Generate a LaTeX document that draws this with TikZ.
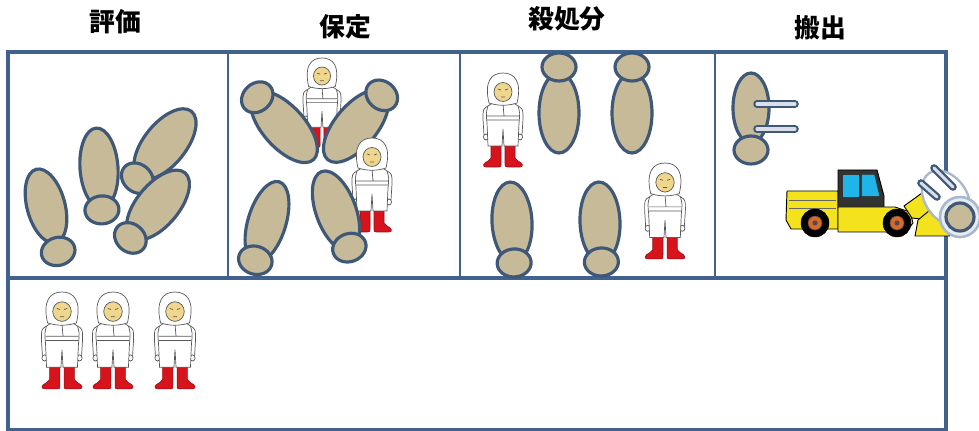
\documentclass[tikz,border=0pt]{standalone}
\usepackage{fontspec}
\usepackage{xcolor}
\usepackage{tikz}
\usetikzlibrary{positioning}
\newfontfamily\jpfont{Noto Sans CJK JP}

\definecolor{frameblue}{HTML}{41628F}
\definecolor{edgeblue}{HTML}{3F5878}
\definecolor{tan}{HTML}{C6BA98}
\definecolor{skin}{HTML}{F0D68C}
\definecolor{bootred}{HTML}{D7141C}
\definecolor{loaderyellow}{HTML}{F4E31C}
\definecolor{glass}{HTML}{1FB5E8}
\definecolor{rimorange}{HTML}{D9692A}
\definecolor{ghost}{HTML}{A9B9CD}
\definecolor{legfill}{HTML}{D8DFE8}

% body plus head: cx, cy, angle, long radius, short radius, head offset
\newcommand{\carcass}[6]{
	\begin{scope}[shift={(#1,#2)}, rotate=#3]
		\filldraw[carcass] (0,0) ellipse (#5 and #4);
		\filldraw[carcass] (0,#6) ellipse (17 and 14);
	\end{scope}
}

% worker in white suit, top of hood at (x,y)
\newcommand{\worker}[3]{
	\begin{scope}[shift={(#1,#2)}, scale=#3]
		\foreach \s in {1,-1} {
			\begin{scope}[xscale=\s]
				\filldraw[suit] (-15,33) .. controls (-20,36) .. (-20,46) -- (-19,62) -- (-15,62) -- (-15,46);
				\filldraw[suit] (-17,64) ellipse (2.5 and 3);
				\filldraw[boot] (-12,68) -- (-2,68) -- (-2,90) .. controls (-2,94) .. (-6,94) -- (-17,94)
					.. controls (-21,94) and (-20,90) .. (-15,88) -- (-12,85) -- cycle;
			\end{scope}
		}
		\filldraw[suit] (-9,29) -- (-15,33) .. controls (-17,40) .. (-16,50) -- (-15,73) -- (-1,73) -- (0,56)
			-- (1,73) -- (15,73) -- (16,50) .. controls (17,40) .. (15,33) -- (9,29) -- cycle;
		\draw[suit] (-16,43) -- (16,43) (-16,47) -- (16,47) (0,31) -- (1,43);
		\filldraw[suit] (-14,30) .. controls (-19,9) and (-12,0) .. (0,0) .. controls (12,0) and (19,9) .. (14,30)
			.. controls (5,33) and (-5,33) .. cycle;
		\filldraw[suit, fill=skin] (0,19) ellipse (9 and 9.5);
		\draw[suit] (-5,16) -- (-2,17) (2,17) -- (5,16) (-2,24) -- (2,24);
	\end{scope}
}

\newcommand{\leg}[2]{
	\draw[edgeblue, line width=6.5pt, line cap=round] #1 -- #2;
	\draw[legfill, line width=2.6pt, line cap=round] #1 -- #2;
}

\begin{document}
\begin{tikzpicture}[x=0.03cm, y=-0.03cm,
		carcass/.style={draw=edgeblue, fill=tan, line width=2.7pt},
		suit/.style={draw=black!65, fill=white, line width=0.6pt},
		boot/.style={draw=bootred!70!black, fill=bootred, line width=0.5pt},
		frame/.style={draw=frameblue, line width=2.8pt},
		title/.style={font=\jpfont\bfseries\fontsize{22}{26}\selectfont},
		loader/.style={draw=black, fill=loaderyellow, line width=0.8pt, line join=round}]
	\useasboundingbox (0,0) rectangle (979,431);

	\node[title] (hyoka) at (115,22) {評価};
	\node[title] (hotei) at (345,27) {保定};
	\node[title] (sasshobun) at (567,19) {殺処分};
	\node[title] (hanshutsu) at (820,28) {搬出};

	\draw[frame] (8,52) rectangle (946,278);
	\draw[frame] (8,278) rectangle (946,430);
	\draw[frame, line width=3.6pt] (8,52) -- (946,52);
	\foreach \x in {228,460,715}
		\draw[frame, line width=2.4pt] (\x,52) -- (\x,278);

	\carcass{46}{206}{15}{38}{19}{47}
	\carcass{99}{168}{4}{40}{19}{42}
	\carcass{165}{144}{-39}{42}{21}{44}
	\carcass{158}{205}{-40}{42}{21}{43}

	\worker{322}{58}{0.95}
	\carcass{284}{127}{-138}{44}{21}{40}
	\carcass{356}{126}{140}{44}{21}{40}
	\worker{372}{138}{1.0}
	\carcass{267}{222}{-17}{42}{19}{40}
	\carcass{336}{211}{20}{42}{20}{39}

	\carcass{559}{113}{180}{40}{20}{46}
	\carcass{632}{113}{180}{40}{20}{46}
	\carcass{512}{222}{3}{40}{20}{41}
	\carcass{600}{222}{2}{40}{20}{40}
	\worker{503}{73}{1.0}
	\worker{665}{163}{1.02}

	\carcass{751}{108}{0}{35}{18}{42}
	\leg{(757,104)}{(795,104)}
	\leg{(757,129)}{(795,129)}

	% wheel loader
	\filldraw[loader] (787,191) -- (838,191) -- (838,229) -- (791,229) -- (786,220) -- cycle;
	\draw[black!60, line width=0.5pt] (789,200) -- (836,200) (789,208) -- (836,208);
	\filldraw[loader, fill=black!80] (838,170) -- (877,170) -- (884,196) -- (884,208) -- (838,208) -- cycle;
	\filldraw[glass] (843,175) rectangle (858,196);
	\filldraw[glass] (862,175) -- (874,175) -- (879,196) -- (862,196) -- cycle;
	\filldraw[loader] (838,207) -- (895,207) -- (910,212) -- (913,223) -- (906,232) -- (838,232) -- cycle;
	\filldraw[loader] (904,206) -- (922,193) -- (929,197) -- (929,220) -- (912,218) -- cycle;
	\filldraw[loader] (918,220) -- (930,210) -- (944,226) -- (950,236) -- (915,236) -- cycle;
	\foreach \wx in {815,897} {
		\filldraw[black] (\wx,223) circle (14);
		\filldraw[rimorange, draw=black!70, line width=0.5pt] (\wx,223) circle (7);
		\fill[black!70] (\wx,223) circle (2.5);
	}

	% carcass pushed out by the bucket
	\begin{scope}[shift={(946,198)}, rotate=34]
		\filldraw[draw=ghost, fill=white, line width=2pt] (0,0) ellipse (21 and 30);
	\end{scope}
	\leg{(921,183)}{(937,197)}
	\leg{(934,168)}{(953,187)}
	\filldraw[draw=ghost, fill=legfill!60, line width=2.2pt] (960,217) circle (20);
	\filldraw[carcass] (960,217) circle (14);
	\worker{62}{292}{1.03}
	\worker{113}{292}{1.03}
	\worker{175}{292}{1.03}
\end{tikzpicture}
\end{document}
